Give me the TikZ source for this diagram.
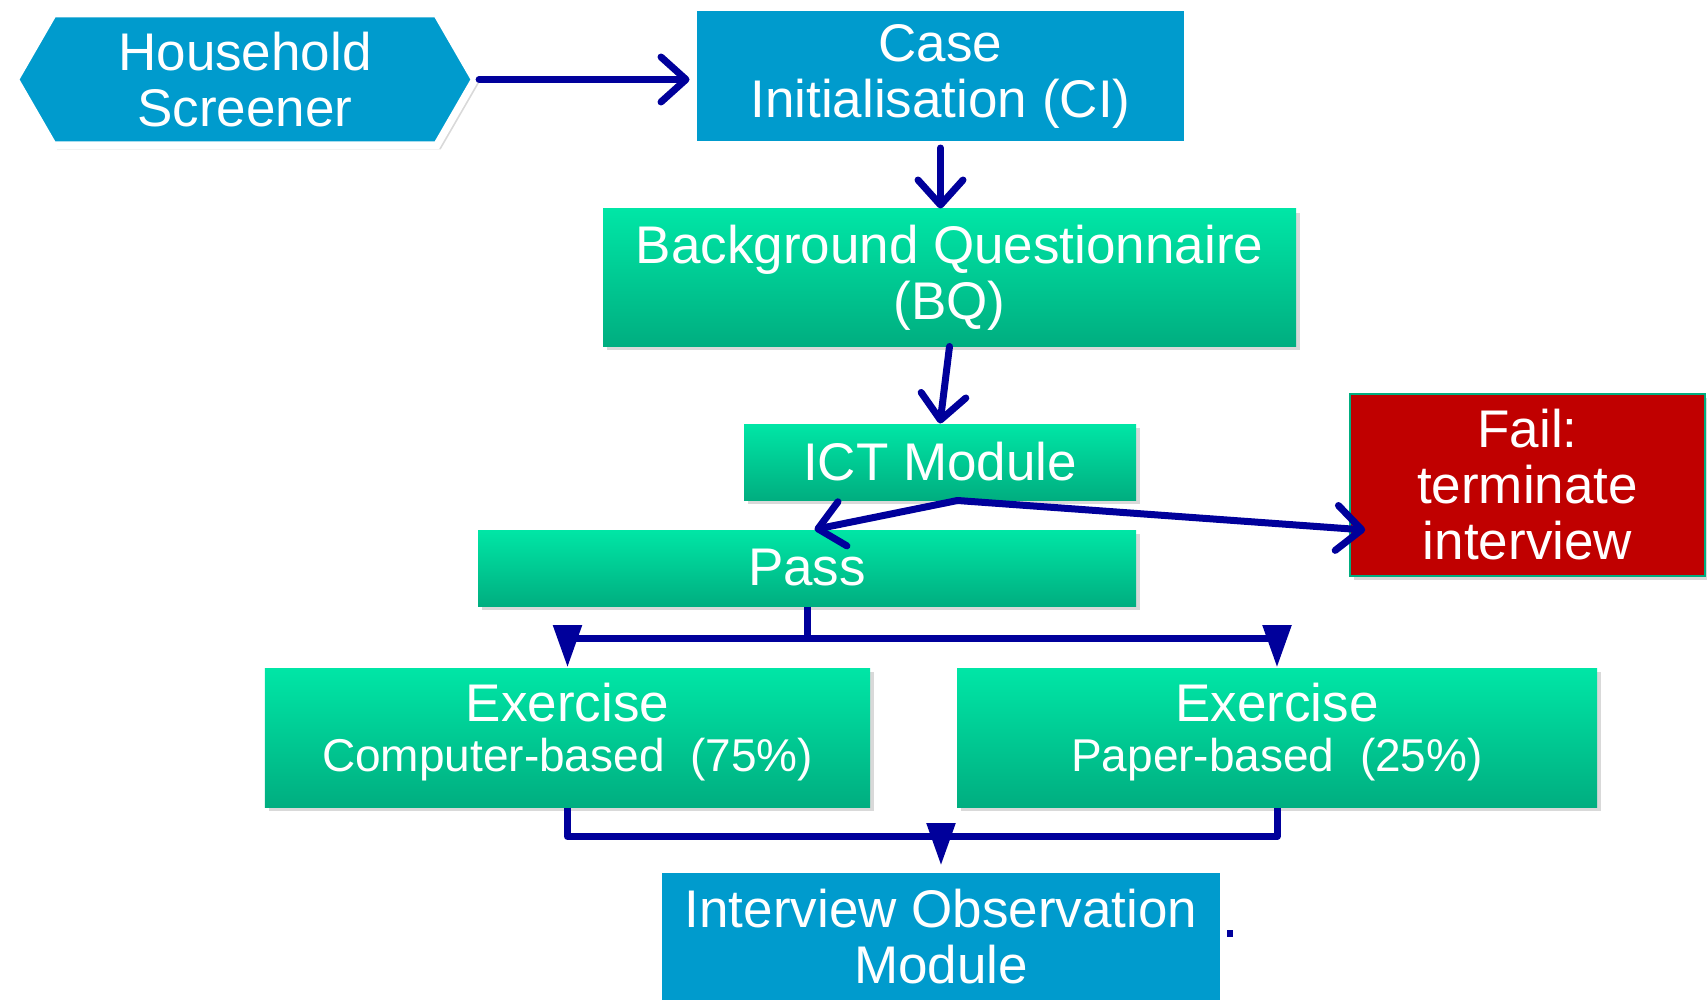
\documentclass[tikz,border=0pt]{standalone}
\usepackage{fontspec}
\setmainfont{Liberation Sans}
\usetikzlibrary{arrows.meta,shapes.symbols,shadows,calc}

\definecolor{boxblue}{RGB}{0,155,205}
\definecolor{greentop}{RGB}{0,230,166}
\definecolor{greenbot}{RGB}{0,174,128}
\definecolor{failred}{RGB}{192,0,0}
\definecolor{navy}{RGB}{0,0,155}

\begin{document}
\begin{tikzpicture}[x=0.4pt, y=-0.4pt]

	% ---------- Page size ----------
	\useasboundingbox (0,0) rectangle (1707,1006);

	% ---------- Helper styles ----------
	\tikzset{
		big/.style={font=\fontsize{21.2}{22.4}\selectfont},
		shade/.style={drop shadow={shadow xshift=1.6pt, shadow yshift=-1.6pt, opacity=0.3}},
		bluebox/.style={big, shade, rectangle, fill=boxblue, draw=white, line width=3pt, text=white, align=center, inner sep=0pt},
		greenbox/.style={big, shade, rectangle, top color=greentop, bottom color=greenbot, draw=none, text=white, align=center, inner sep=0pt},
		failbox/.style={big, shade, rectangle, fill=failred, draw=greenbot, line width=0.6pt, text=white, align=center, inner sep=0pt},
		flow/.style={draw=navy, line width=2.8pt, line cap=round, line join=round, -{Straight Barb[round, length=10pt, width=18pt]}},
		fork/.style={draw=navy, line width=2.8pt, line join=round},
		drop/.style={draw=navy, line width=2.8pt, line join=round, -{Triangle[length=17pt, width=11pt]}}
	}

	% ---------- Top row ----------
	\node[bluebox, shape=signal, signal to=west and east, signal pointer angle=120,
		minimum width=183.8pt, minimum height=52.6pt] (hh) at (245,79.5) {Household\\Screener};
	\node[bluebox, minimum width=197.8pt, minimum height=54.6pt] (ci) at (940.5,76) {Case\\Initialisation (CI)};

	% ---------- Middle column ----------
	\node[greenbox, minimum width=277.2pt, minimum height=54.8pt] (bq) at (949.5,277.5) {Background Questionnaire\\(BQ)};
	\node[greenbox, minimum width=156.8pt, minimum height=30.4pt] (ict) at (940,462) {ICT Module};
	\node[greenbox, minimum width=263.2pt, minimum height=30.4pt] (pass) at (807,568) {Pass};
	\node[failbox, minimum width=142pt, minimum height=72.8pt] (fail) at (1527.5,485) {Fail:\\terminate\\interview};

	% ---------- Exercises ----------
	\node[greenbox, minimum width=242pt, minimum height=55.6pt, text depth=8pt] (excb) at (567.5,737.5)
		{Exercise\\[-2.4pt]{\fontsize{18.4}{20}\selectfont Computer-based\ \ (75\%)}};
	\node[greenbox, minimum width=256pt, minimum height=55.6pt, text depth=8pt] (expb) at (1277,737.5)
		{Exercise\\[-2.4pt]{\fontsize{18.4}{20}\selectfont Paper-based\ \ (25\%)}};

	% ---------- Bottom ----------
	\node[bluebox, minimum width=226.2pt, minimum height=53.8pt] (iom) at (941,936.5) {Interview Observation\\Module};
	\fill[navy] (1227,930) rectangle (1233,937);

	% ---------- Connectors ----------
	\draw[flow] (hh.east) -- (hh.east -| ci.west);
	\draw[flow] (ci.south) -- (ci.south |- bq.north);
	\draw[flow] (bq.south) -- (ict.north);

	\coordinate (split) at ([xshift=7pt]ict.south);
	\draw[flow] (split) -- ([xshift=3pt]pass.north);
	\draw[flow] (split) -- ([xshift=6.4pt, yshift=-18pt]fail.west);

	\draw[fork] (pass.south) -- ++(0,32) coordinate (forkpt);
	\draw[drop] (forkpt) -| (excb.north);
	\draw[drop] (forkpt) -| (expb.north);

	\coordinate (merge) at ($(iom.north)+(0,-29)$);
	\draw[fork] (excb.south) |- (merge) -| (expb.south);
	\draw[drop] (merge) -- (iom.north);

\end{tikzpicture}
\end{document}
